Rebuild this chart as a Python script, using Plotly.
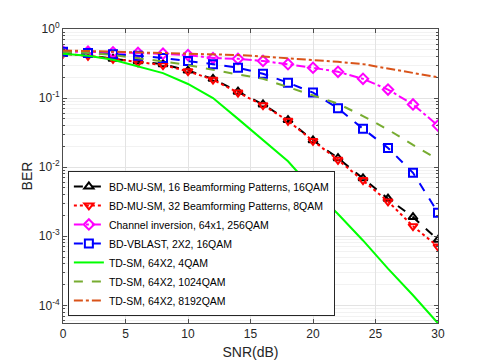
import plotly.graph_objects as go

# SNR grid (dB)
snr = [0, 2, 4, 6, 8, 10, 12, 14, 16, 18, 20, 22, 24, 26, 28, 30]

ber_mu16 = [0.44, 0.42, 0.37, 0.34, 0.31, 0.25, 0.19, 0.124, 0.081, 0.048,
            0.0245, 0.0135, 0.0069, 0.0035, 0.0019, 0.00089]
ber_mu32 = [0.44, 0.41, 0.37, 0.33, 0.30, 0.245, 0.185, 0.12, 0.079, 0.047,
            0.024, 0.0128, 0.0065, 0.0032, 0.0014, 0.00071]
ber_ci = [0.47, 0.47, 0.46, 0.45, 0.44, 0.42, 0.38, 0.37, 0.345, 0.31,
          0.275, 0.24, 0.19, 0.133, 0.081, 0.040]
ber_vblast = [0.47, 0.45, 0.43, 0.41, 0.38, 0.345, 0.31, 0.275, 0.225, 0.167,
              0.12, 0.071, 0.036, 0.019, 0.0083, 0.0022]
ber_td4 = [0.44, 0.41, 0.36, 0.29, 0.23, 0.16, 0.10, 0.05, 0.025, 0.0122,
           0.0048, 0.0021, 0.00087, 0.00034, 0.00014, 0.000055]
ber_td1024 = [0.47, 0.45, 0.42, 0.38, 0.34, 0.30, 0.26, 0.22, 0.19, 0.145,
              0.11, 0.083, 0.055, 0.035, 0.021, 0.013]
ber_td8192 = [0.49, 0.48, 0.47, 0.46, 0.45, 0.44, 0.43, 0.42, 0.40, 0.38,
              0.36, 0.335, 0.31, 0.27, 0.235, 0.20]

# y-axis decade ticks
ber_ticks = [1, 0.1, 0.01, 0.001, 0.0001]
ber_ticktext = ["10<sup>0</sup>", "10<sup>-1</sup>", "10<sup>-2</sup>",
                "10<sup>-3</sup>", "10<sup>-4</sup>"]
snr_ticks = [0, 5, 10, 15, 20, 25, 30]

series = [
    ("BD-MU-SM, 16 Beamforming Patterns, 16QAM", ber_mu16, "black", "dash", "triangle-up-open"),
    ("BD-MU-SM, 32 Beamforming Patterns, 8QAM", ber_mu32, "#ff0000", "dot", "triangle-down-open"),
    ("Channel inversion, 64x1, 256QAM", ber_ci, "#ff00ff", "dashdot", "diamond-open"),
    ("BD-VBLAST, 2X2, 16QAM", ber_vblast, "#0000ff", "dash", "square-open"),
    ("TD-SM, 64X2, 4QAM", ber_td4, "#00ff00", "solid", None),
    ("TD-SM, 64X2, 1024QAM", ber_td1024, "#77ac30", "dash", None),
    ("TD-SM, 64X2, 8192QAM", ber_td8192, "#d95319", "dashdot", None),
]

fig = go.Figure()
for name, y, color, dash, symbol in series:
    fig.add_trace(go.Scatter(
        x=snr, y=y, name=name,
        mode="lines+markers" if symbol else "lines",
        line=dict(color=color, width=2, dash=dash),
        marker=dict(symbol=symbol or "circle", size=8, color=color,
                    line=dict(color=color, width=2)),
    ))

axis_common = dict(
    showline=True, linecolor="#4d4d4d", linewidth=1, mirror="ticks",
    ticks="inside", ticklen=4, tickcolor="#4d4d4d",
    gridcolor="#e3e3e3", zeroline=False, automargin=True,
    tickfont=dict(family="Liberation Sans, Arial", size=12, color="#262626"),
)

# the page body has an 8px margin, so the margins are shifted to compensate
fig.update_layout(
    width=485, height=363,
    margin=dict(l=55, r=55, t=19, b=48),
    paper_bgcolor="white", plot_bgcolor="white",
    font=dict(family="Liberation Sans, Arial", color="#262626"),
    xaxis=dict(
        range=[0, 30], tickvals=snr_ticks,
        title=dict(text="SNR(dB)", font=dict(size=14), standoff=6),
        **axis_common,
    ),
    yaxis=dict(
        type="log", range=[-4.255, 0],
        tickvals=ber_ticks, ticktext=ber_ticktext,
        title=dict(text="BER", font=dict(size=14), standoff=2),
        minor=dict(dtick="D1", showgrid=True, gridcolor="#f2f2f2",
                   ticks="inside", ticklen=2, tickcolor="#4d4d4d"),
        **axis_common,
    ),
    legend=dict(
        x=0.013, y=0.024, xanchor="left", yanchor="bottom",
        bgcolor="white", bordercolor="#262626", borderwidth=1,
        font=dict(size=10.5, color="black"),
        tracegroupgap=0, itemwidth=30,
    ),
    showlegend=True,
)

fig.write_html("out.html")
